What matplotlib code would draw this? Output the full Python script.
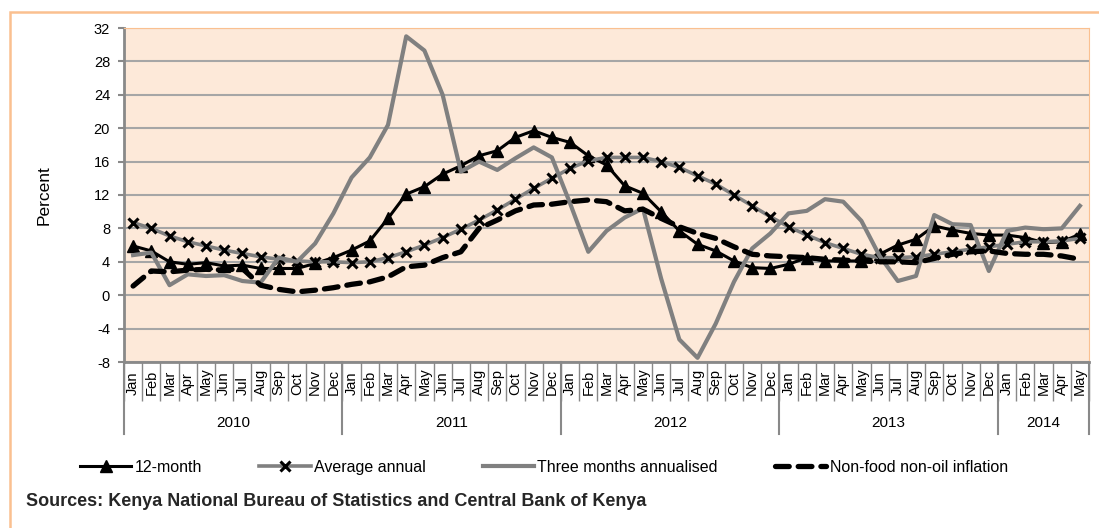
import matplotlib.pyplot as plt
from matplotlib.patches import Rectangle
from matplotlib.transforms import blended_transform_factory

plt.rcParams['font.family'] = ['Liberation Sans Narrow', 'Liberation Sans', 'DejaVu Sans']
plt.rcParams['axes.unicode_minus'] = False

# months Jan 2010 .. May 2014
month_names = ['Jan', 'Feb', 'Mar', 'Apr', 'May', 'Jun', 'Jul', 'Aug', 'Sep', 'Oct', 'Nov', 'Dec']
years = ['2010', '2011', '2012', '2013', '2014']
months_per_year = [12, 12, 12, 12, 5]
months = []
for n in months_per_year:
    months += month_names[:n]

twelve_month = [5.9, 5.3, 4.0, 3.7, 3.9, 3.5, 3.6, 3.2, 3.2, 3.2, 3.8, 4.5,
                5.4, 6.5, 9.2, 12.1, 13.0, 14.5, 15.5, 16.7, 17.3, 18.9, 19.7, 18.9,
                18.3, 16.7, 15.6, 13.1, 12.2, 10.0, 7.7, 6.1, 5.3, 4.1, 3.3, 3.2,
                3.7, 4.5, 4.1, 4.1, 4.1, 4.9, 6.0, 6.7, 8.3, 7.8, 7.4, 7.2,
                7.2, 6.9, 6.3, 6.4, 7.3]
avg_annual = [8.7, 8.0, 7.1, 6.4, 5.9, 5.4, 5.0, 4.6, 4.3, 4.1, 4.0, 4.0,
              3.9, 4.0, 4.5, 5.2, 6.0, 6.9, 7.9, 9.0, 10.2, 11.5, 12.8, 14.0,
              15.2, 16.1, 16.5, 16.5, 16.5, 16.0, 15.3, 14.3, 13.3, 12.0, 10.7, 9.4,
              8.2, 7.2, 6.3, 5.6, 4.9, 4.5, 4.5, 4.6, 4.9, 5.2, 5.5, 5.8,
              6.1, 6.4, 6.4, 6.5, 6.8]
three_month = [4.8, 5.1, 1.2, 2.5, 2.3, 2.4, 1.7, 1.5, 4.5, 4.0, 6.2, 9.8,
               14.1, 16.5, 20.4, 31.0, 29.3, 24.0, 14.8, 16.0, 15.0, 16.4, 17.7, 16.5,
               11.0, 5.2, 7.7, 9.3, 10.4, 2.0, -5.3, -7.5, -3.4, 1.6, 5.6, 7.4,
               9.8, 10.1, 11.5, 11.2, 8.9, 4.7, 1.7, 2.3, 9.6, 8.5, 8.4, 2.9,
               7.7, 8.1, 7.9, 8.0, 10.7]
nonfood = [1.1, 2.9, 2.8, 3.0, 3.1, 3.0, 3.2, 1.2, 0.7, 0.4, 0.6, 0.9,
           1.3, 1.6, 2.2, 3.4, 3.6, 4.5, 5.2, 8.0, 9.0, 10.1, 10.8, 10.9,
           11.2, 11.4, 11.2, 10.1, 10.3, 9.2, 8.2, 7.4, 6.8, 5.8, 4.9, 4.7,
           4.6, 4.5, 4.3, 4.2, 4.1, 4.0, 4.0, 3.9, 4.4, 4.9, 5.2, 5.3,
           5.0, 4.9, 4.9, 4.7, 4.3]

x = list(range(len(months)))

fig = plt.figure(figsize=(10.99, 5.28), dpi=100)
fig.patches.append(Rectangle((10 / 1099, -0.05), 1.2, 1.05 - 12 / 528, transform=fig.transFigure,
                             fill=False, edgecolor='#FAC090', linewidth=1.8))

ax = fig.add_axes([124 / 1099, 166 / 528, 965 / 1099, 334 / 528])
ax.set_facecolor('#FDE9D9')

ax.plot(x, twelve_month, color='black', lw=2.2, marker='^', ms=8, label='12-month')
ax.plot(x, avg_annual, color='#808080', lw=2.6, marker='x', ms=6.5, mew=2.2, mec='black',
        label='Average annual')
ax.plot(x, three_month, color='#808080', lw=3.0, label='Three months annualised')
ax.plot(x, nonfood, color='black', lw=3.8, linestyle=(0, (2.6, 1.7)), dash_capstyle='round',
        label='Non-food non-oil inflation')

ax.set_xlim(-0.5, len(months) - 0.5)
ax.set_ylim(-8, 32)
ax.set_yticks(range(-8, 33, 4))
ax.yaxis.grid(True, color='#A6A6A6', lw=1.5)
ax.set_axisbelow(True)
ax.tick_params(axis='y', length=4, width=1.5, color='#898989', labelsize=10.5, pad=6)
for lab in ax.get_yticklabels():
    lab.set_family(['Liberation Sans', 'DejaVu Sans'])

for side in ['top', 'right']:
    ax.spines[side].set_color('#FAC090')
    ax.spines[side].set_linewidth(0.8)
for side in ['left', 'bottom']:
    ax.spines[side].set_color('#898989')
    ax.spines[side].set_linewidth(2.0)

# month labels and separators
ax.set_xticks(x)
ax.set_xticklabels([])
ax.set_xticks([i - 0.5 for i in range(len(months) + 1)], minor=True)
ax.tick_params(axis='x', which='major', length=0)
ax.tick_params(axis='x', which='minor', length=28, width=1.0, color='#898989')
trans = blended_transform_factory(ax.transData, ax.transAxes)
for i, m in enumerate(months):
    ax.text(i, -0.1, m, transform=trans, rotation=90, rotation_mode='anchor',
            ha='left', va='center', fontsize=10.5)

start = 0
for yr, n in zip(years, months_per_year):
    ax.axvline(start - 0.5, ymin=-0.215, ymax=0, color='#898989', lw=1.5, clip_on=False)
    ax.text(start + n / 2 - 0.5, -0.183, yr, transform=trans, ha='center', va='center', fontsize=11)
    start += n
ax.axvline(start - 0.5, ymin=-0.215, ymax=0, color='#898989', lw=1.5, clip_on=False)

ax.set_ylabel('Percent', fontsize=12.5, labelpad=30)

fig.legend(loc='center', bbox_to_anchor=(0.495, 0.1155), ncol=4, frameon=False, fontsize=11.5,
           handlelength=3.2, handletextpad=0.2, columnspacing=3.6)

fig.text(26 / 1099, 1 - 502 / 528, 'Sources: Kenya National Bureau of Statistics and Central Bank of Kenya',
         fontsize=13, fontweight='bold', color='#262626', va='center')

fig.savefig('out.png', dpi=100)
